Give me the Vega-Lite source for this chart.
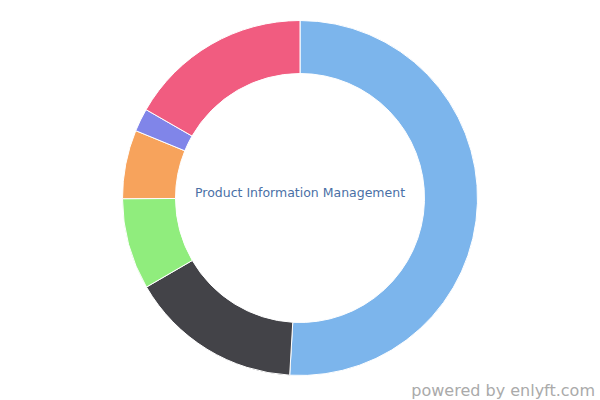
{
  "$schema": "https://vega.github.io/schema/vega-lite/v6.json",
  "width": 600,
  "height": 396,
  "autosize": {"type": "none"},
  "padding": {"left": 0, "right": 0, "top": 0, "bottom": 4},
  "background": "white",
  "view": {"stroke": null},
  "title": {
    "text": "powered by enlyft.com",
    "orient": "bottom",
    "anchor": "end",
    "frame": "group",
    "baseline": "alphabetic",
    "offset": 0,
    "dx": -5,
    "font": "DejaVu Sans",
    "fontSize": 16,
    "fontWeight": "normal",
    "color": "#aaaaaa"
  },
  "datasets": {
    "segments": [
      {"segment": "S1", "share": 50.9, "rank": 1},
      {"segment": "S2", "share": 15.7, "rank": 2},
      {"segment": "S3", "share": 8.3, "rank": 3},
      {"segment": "S4", "share": 6.25, "rank": 4},
      {"segment": "S5", "share": 2.1, "rank": 5},
      {"segment": "S6", "share": 16.7, "rank": 6}
    ],
    "center": [{"label": "Product Information Management"}]
  },
  "layer": [
    {
      "data": {"name": "segments"},
      "mark": {"type": "arc", "outerRadius": 177.5, "innerRadius": 124.5, "stroke": "white", "strokeWidth": 1},
      "encoding": {
        "theta": {"field": "share", "type": "quantitative", "stack": true},
        "order": {"field": "rank", "type": "quantitative"},
        "color": {
          "field": "segment",
          "type": "nominal",
          "scale": {"domain": ["S1", "S2", "S3", "S4", "S5", "S6"], "range": ["#7cb5ec", "#434348", "#90ed7d", "#f7a35c", "#8085e9", "#f15c80"]},
          "legend": null
        }
      }
    },
    {
      "data": {"name": "center"},
      "mark": {"type": "text", "font": "DejaVu Sans", "fontSize": 12.5, "color": "#4a70a6", "baseline": "alphabetic", "dy": -1, "align": "center"},
      "encoding": {"text": {"field": "label"}}
    }
  ]
}
